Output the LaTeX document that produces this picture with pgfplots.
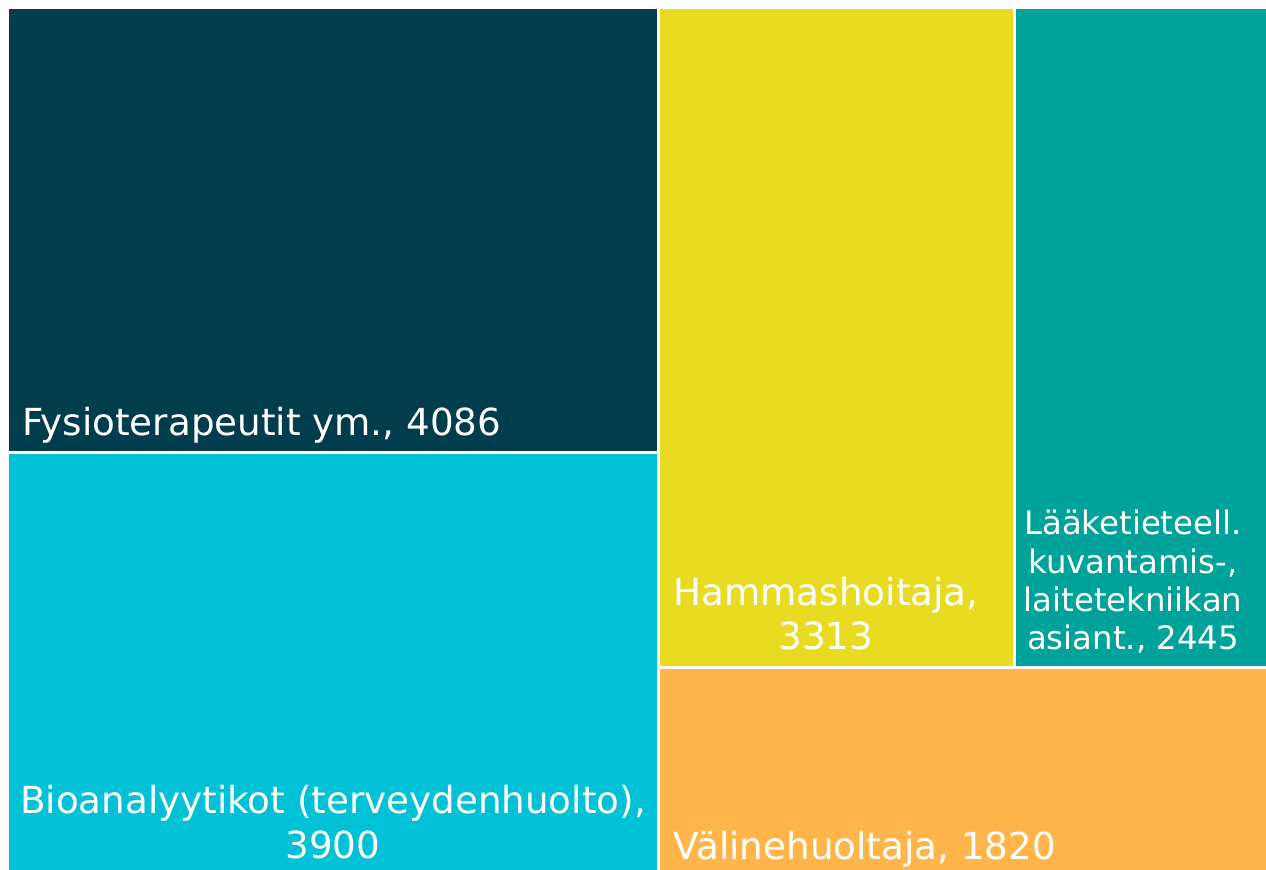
\documentclass[border=0pt]{standalone}
\usepackage{pgfplots}
\pgfplotsset{compat=1.18}
\usepackage{fontspec}
\setmainfont{DejaVu Sans}
\definecolor{cDark}{HTML}{023D4D}
\definecolor{cCyan}{HTML}{00C1D6}
\definecolor{cYellow}{HTML}{E9DA22}
\definecolor{cTeal}{HTML}{00A399}
\definecolor{cOrange}{HTML}{FFB54A}
\begin{document}
\begin{tikzpicture}
\begin{axis}[
  scale only axis, width=12.66cm, height=8.70cm,
  xmin=0, xmax=1266, ymin=0, ymax=870, y dir=reverse,
  hide axis, clip=false,
  every axis plot/.append style={draw=none},
]
% Fysioterapeutit ym., 4086
\addplot[fill=cDark] coordinates {(9,9) (657,9) (657,451) (9,451)} --cycle;
% Bioanalyytikot, 3900
\addplot[fill=cCyan] coordinates {(9,454) (657,454) (657,870) (9,870)} --cycle;
% Hammashoitaja, 3313
\addplot[fill=cYellow] coordinates {(660,9) (1013,9) (1013,666) (660,666)} --cycle;
% Laaketieteell., 2445
\addplot[fill=cTeal] coordinates {(1016,9) (1266,9) (1266,666) (1016,666)} --cycle;
% Valinehuoltaja, 1820
\addplot[fill=cOrange] coordinates {(660,669) (1266,669) (1266,870) (660,870)} --cycle;

\path (axis cs:0,0) rectangle (axis cs:1266,870);

\begin{scope}[every node/.style={text=white, inner sep=0pt}]
\node[anchor=base west, font=\fontsize{10.6}{12.7}\selectfont] at (axis cs:22,436) {Fysioterapeutit ym., 4086};
\node[anchor=base, font=\fontsize{10.6}{12.7}\selectfont] at (axis cs:333,814) {Bioanalyytikot (terveydenhuolto),};
\node[anchor=base, font=\fontsize{10.6}{12.7}\selectfont] at (axis cs:333,859) {3900};
\node[anchor=base, font=\fontsize{10.6}{12.7}\selectfont] at (axis cs:826,606) {Hammashoitaja,};
\node[anchor=base, font=\fontsize{10.6}{12.7}\selectfont] at (axis cs:826,650) {3313};
\node[anchor=base, font=\fontsize{9.2}{11}\selectfont] at (axis cs:1133,535) {Lääketieteell.};
\node[anchor=base, font=\fontsize{9.2}{11}\selectfont] at (axis cs:1133,574) {kuvantamis-,};
\node[anchor=base, font=\fontsize{9.2}{11}\selectfont] at (axis cs:1133,612) {laitetekniikan};
\node[anchor=base, font=\fontsize{9.2}{11}\selectfont] at (axis cs:1133,650) {asiant., 2445};
\node[anchor=base west, font=\fontsize{10.6}{12.7}\selectfont] at (axis cs:673,860) {Välinehuoltaja, 1820};
\end{scope}
\end{axis}
\end{tikzpicture}
\end{document}
